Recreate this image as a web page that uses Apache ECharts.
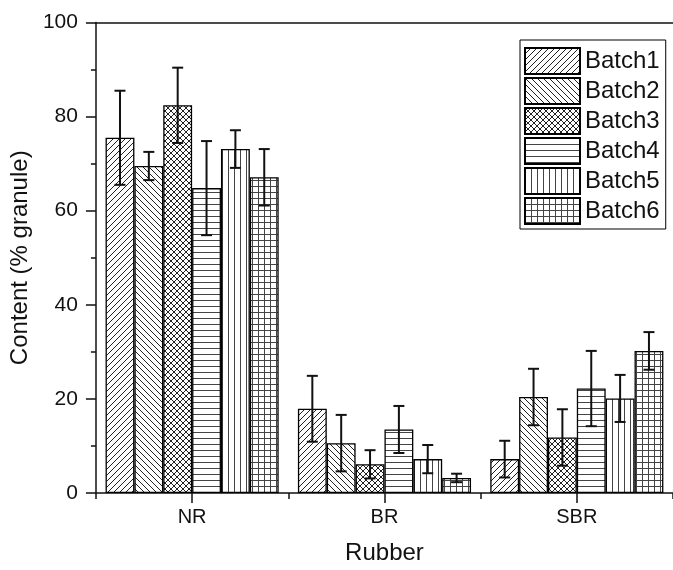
<!DOCTYPE html>
<html>
<head>
<meta charset="utf-8">
<script src="https://cdn.jsdelivr.net/npm/echarts@6/dist/echarts.min.js"></script>
<style>
html,body{margin:0;padding:0;background:#fff;}
#chart{width:673px;height:570px;}
</style>
</head>
<body>
<div id="chart"></div>
<script>
const categories = ['NR', 'BR', 'SBR'];
const batchNames = ['Batch1', 'Batch2', 'Batch3', 'Batch4', 'Batch5', 'Batch6'];
const batch1 = [75.5, 17.9, 7.2];
const batch2 = [69.5, 10.6, 20.4];
const batch3 = [82.4, 6.1, 11.8];
const batch4 = [64.8, 13.5, 22.2];
const batch5 = [73.1, 7.2, 20.1];
const batch6 = [67.1, 3.2, 30.2];
const err1 = [10, 7, 3.9];
const err2 = [3, 6, 6];
const err3 = [8, 3, 6];
const err4 = [10, 5, 8];
const err5 = [4, 3, 5];
const err6 = [6, 0.9, 4];
const yTicks = [0, 20, 40, 60, 80, 100];

const values = [batch1, batch2, batch3, batch4, batch5, batch6];
const errors = [err1, err2, err3, err4, err5, err6];

function makePattern(type) {
  const s = 6;
  const c = document.createElement('canvas');
  c.width = s; c.height = s;
  const g = c.getContext('2d');
  g.fillStyle = '#fff';
  g.fillRect(0, 0, s, s);
  g.strokeStyle = '#222';
  g.lineWidth = 1;
  function line(x1, y1, x2, y2) { g.beginPath(); g.moveTo(x1, y1); g.lineTo(x2, y2); g.stroke(); }
  if (type === 'fwd' || type === 'cross') {
    line(-1, s + 1, s + 1, -1);
    line(-1, 1, 1, -1);
    line(s - 1, s + 1, s + 1, s - 1);
  }
  if (type === 'back' || type === 'cross') {
    line(-1, -1, s + 1, s + 1);
    line(s - 1, -1, s + 1, 1);
    line(-1, s - 1, 1, s + 1);
  }
  if (type === 'horiz' || type === 'grid') {
    g.strokeStyle = '#444';
    line(0, 0.5, s, 0.5);
  }
  if (type === 'vert' || type === 'grid') {
    g.strokeStyle = '#444';
    line(0.5, 0, 0.5, s);
  }
  return { image: c, repeat: 'repeat' };
}
const patternTypes = ['fwd', 'back', 'cross', 'horiz', 'vert', 'grid'];

const barSeries = batchNames.map((name, i) => ({
  name: name,
  type: 'bar',
  xAxisIndex: 0,
  data: values[i],
  barGap: '0%',
  barCategoryGap: '10%',
  itemStyle: { color: makePattern(patternTypes[i]), borderColor: '#000', borderWidth: 1.3 },
  emphasis: { disabled: true },
  animation: false
}));

const errData = [];
values.forEach((arr, b) => arr.forEach((v, c) => errData.push([c, v, errors[b][c], b])));

const errSeries = {
  type: 'custom',
  xAxisIndex: 0,
  z: 10,
  animation: false,
  silent: true,
  data: errData,
  renderItem: function (params, api) {
    const c = api.value(0), v = api.value(1), e = api.value(2), b = api.value(3);
    const band = api.size([1, 0])[0];
    const bw = band * 0.9 / 6;
    const cx = api.coord([c, 0])[0] - 0.45 * band + (b + 0.5) * bw;
    const yt = api.coord([c, v + e])[1];
    const yb = api.coord([c, Math.max(v - e, 0)])[1];
    const hw = 5.5;
    const st = { stroke: '#111', lineWidth: 2 };
    return {
      type: 'group',
      children: [
        { type: 'line', shape: { x1: cx, y1: yt, x2: cx, y2: yb }, style: st },
        { type: 'line', shape: { x1: cx - hw, y1: yt, x2: cx + hw, y2: yt }, style: st },
        { type: 'line', shape: { x1: cx - hw, y1: yb, x2: cx + hw, y2: yb }, style: st }
      ]
    };
  }
};

const font = 'Liberation Sans';
const chart = echarts.init(document.getElementById('chart'), null, { renderer: 'canvas' });
chart.setOption({
  backgroundColor: '#fff',
  animation: false,
  textStyle: { fontFamily: font },
  grid: { left: 90.5, top: 22.5, right: -7, bottom: 72, containLabel: false },
  legend: {
    data: batchNames.map(n => ({ name: n, icon: 'rect' })),
    orient: 'vertical',
    left: 520,
    top: 40,
    itemWidth: 55,
    itemHeight: 26,
    itemGap: 2,
    padding: [7, 6, 4, 4],
    borderColor: '#000',
    borderWidth: 1,
    selectedMode: false,
    textStyle: { fontFamily: font, fontSize: 24, lineHeight: 26, color: '#111' }
  },
  xAxis: [
    {
      type: 'category',
      data: categories,
      position: 'bottom',
      axisLine: { show: true, lineStyle: { color: '#111', width: 1.5 } },
      axisTick: { show: true, alignWithLabel: true, length: 10, lineStyle: { color: '#111', width: 1.5 } },
      axisLabel: { fontFamily: font, fontSize: 20, color: '#111', margin: 14 },
      name: 'Rubber',
      nameLocation: 'middle',
      nameGap: 48,
      nameTextStyle: { fontFamily: font, fontSize: 24, color: '#111' }
    },
    {
      type: 'category',
      data: categories,
      position: 'bottom',
      axisLine: { show: false },
      axisTick: { show: true, length: 6, lineStyle: { color: '#111', width: 1.5 } },
      axisLabel: { show: false }
    },
    {
      type: 'category',
      data: categories,
      position: 'top',
      axisLine: { show: true, lineStyle: { color: '#111', width: 1.5 } },
      axisTick: { show: false },
      axisLabel: { show: false }
    }
  ],
  yAxis: {
    type: 'value',
    min: yTicks[0],
    max: yTicks[yTicks.length - 1],
    interval: yTicks[1] - yTicks[0],
    axisLine: { show: true, lineStyle: { color: '#111', width: 1.5 } },
    axisTick: { show: true, length: 10, lineStyle: { color: '#111', width: 1.5 } },
    minorTick: { show: true, splitNumber: 2, length: 5, lineStyle: { color: '#111', width: 1.5 } },
    splitLine: { show: false },
    axisLabel: { fontFamily: font, fontSize: 21, color: '#111', margin: 18 },
    name: 'Content (% granule)',
    nameLocation: 'middle',
    nameGap: 55,
    nameTextStyle: { fontFamily: font, fontSize: 24, color: '#111' }
  },
  series: barSeries.concat([errSeries])
});
</script>
</body>
</html>
